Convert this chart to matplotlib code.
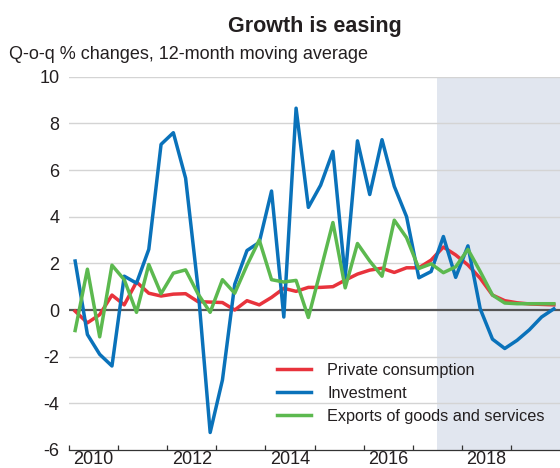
import matplotlib
matplotlib.use("Agg")
import matplotlib.pyplot as plt
import numpy as np

plt.rcParams['font.family'] = ['Liberation Sans', 'DejaVu Sans']

# ---- data (quarterly, 2010Q1 .. 2019Q4) ----
start_year = 2010
private_consumption = [-0.05, -0.55, -0.2, 0.64, 0.22, 1.2, 0.72, 0.6, 0.68, 0.7,
                       0.36, 0.34, 0.32, 0.0, 0.4, 0.22, 0.54, 0.93, 0.8, 0.97,
                       0.97, 1.0, 1.28, 1.54, 1.71, 1.79, 1.61, 1.81, 1.81, 2.14,
                       2.7, 2.36, 1.93, 1.36, 0.64, 0.4, 0.31, 0.26, 0.24, 0.22]
investment = [2.1, -1.05, -1.9, -2.4, 1.45, 1.15, 2.6, 7.1, 7.6, 5.65,
              1.0, -5.25, -3.0, 1.1, 2.55, 2.9, 5.1, -0.3, 8.65, 4.4,
              5.35, 6.8, 1.4, 7.25, 4.95, 7.3, 5.3, 4.0, 1.38, 1.65,
              3.15, 1.4, 2.75, 0.05, -1.25, -1.65, -1.3, -0.85, -0.3, 0.05]
exports = [-0.88, 1.75, -1.15, 1.92, 1.3, -0.1, 1.95, 0.7, 1.58, 1.72,
           0.7, -0.1, 1.3, 0.72, 1.92, 3.0, 1.3, 1.2, 1.27, -0.32,
           1.7, 3.75, 0.95, 2.85, 2.1, 1.45, 3.85, 3.1, 1.78, 1.98,
           1.6, 1.85, 2.6, 1.65, 0.64, 0.3, 0.27, 0.27, 0.27, 0.27]
series_labels = ["Private consumption", "Investment", "Exports of goods and services"]
projection_start = 2017.5
y_ticks = [-6, -4, -2, 0, 2, 4, 6, 8, 10]
x_tick_years = list(range(2010, 2020))
x_label_years = [2010, 2012, 2014, 2016, 2018]

title = "Growth is easing"
subtitle = "Q-o-q % changes, 12-month moving average"

# ---- styling ----
col_red = "#E8333C"
col_blue = "#0A72BA"
col_green = "#5CB94F"
col_shade = "#E1E6EF"
txt = "#231F20"

n = len(investment)
x = start_year + (np.arange(n) + 0.5) / 4.0

fig = plt.figure(figsize=(5.6, 4.68), dpi=100)
ax = fig.add_axes([69 / 560, 18 / 468, 1 - 69 / 560, (450 - 76.7) / 468])

ax.set_xlim(2010, 2020)
ax.set_ylim(-6, 10)

ax.axvspan(projection_start, 2020, color=col_shade, zorder=0, lw=0)
for yv in y_ticks:
    if yv not in (-6, 0):
        ax.axhline(yv, color="#D4D4D4", lw=1.0, zorder=1)
ax.axhline(0, color="#555555", lw=1.6, zorder=2)

ax.plot(x, private_consumption, color=col_red, lw=2.5, label=series_labels[0], zorder=3)
ax.plot(x, investment, color=col_blue, lw=2.5, label=series_labels[1], zorder=4)
ax.plot(x, exports, color=col_green, lw=2.5, label=series_labels[2], zorder=5)

for s in ("left", "right", "top"):
    ax.spines[s].set_visible(False)
ax.spines["bottom"].set_color("#333333")
ax.spines["bottom"].set_linewidth(0.9)

ax.set_yticks(y_ticks)
ax.set_yticklabels([str(v) for v in y_ticks])
ax.tick_params(axis="y", length=0, pad=7, labelsize=13, labelcolor=txt)

ax.set_xticks(x_tick_years)
ax.set_xticklabels([""] * len(x_tick_years))
ax.tick_params(axis="x", which="major", direction="in", length=3.5, width=0.9, color="#333333")
ax.set_xticks([yy + 0.5 for yy in x_label_years], minor=True)
ax.set_xticklabels([str(yy) for yy in x_label_years], minor=True)
ax.tick_params(axis="x", which="minor", length=0, pad=1.0, labelsize=13, labelcolor=txt)

leg = ax.legend(loc="upper left", bbox_to_anchor=(277 / 560, (468 - 362.5) / 468),
                bbox_transform=fig.transFigure, frameon=False, fontsize=11.7,
                borderpad=0, borderaxespad=0, handlelength=2.1, handletextpad=1.0,
                labelspacing=0.5)
for t in leg.get_texts():
    t.set_color(txt)

fig.text(314.5 / 560, (468 - 32) / 468, title, ha="center", va="baseline",
         fontsize=15.5, fontweight="bold", color=txt)
fig.text(9 / 560, (468 - 59) / 468, subtitle, ha="left", va="baseline",
         fontsize=13, color=txt)

fig.savefig("out.png", dpi=100)
